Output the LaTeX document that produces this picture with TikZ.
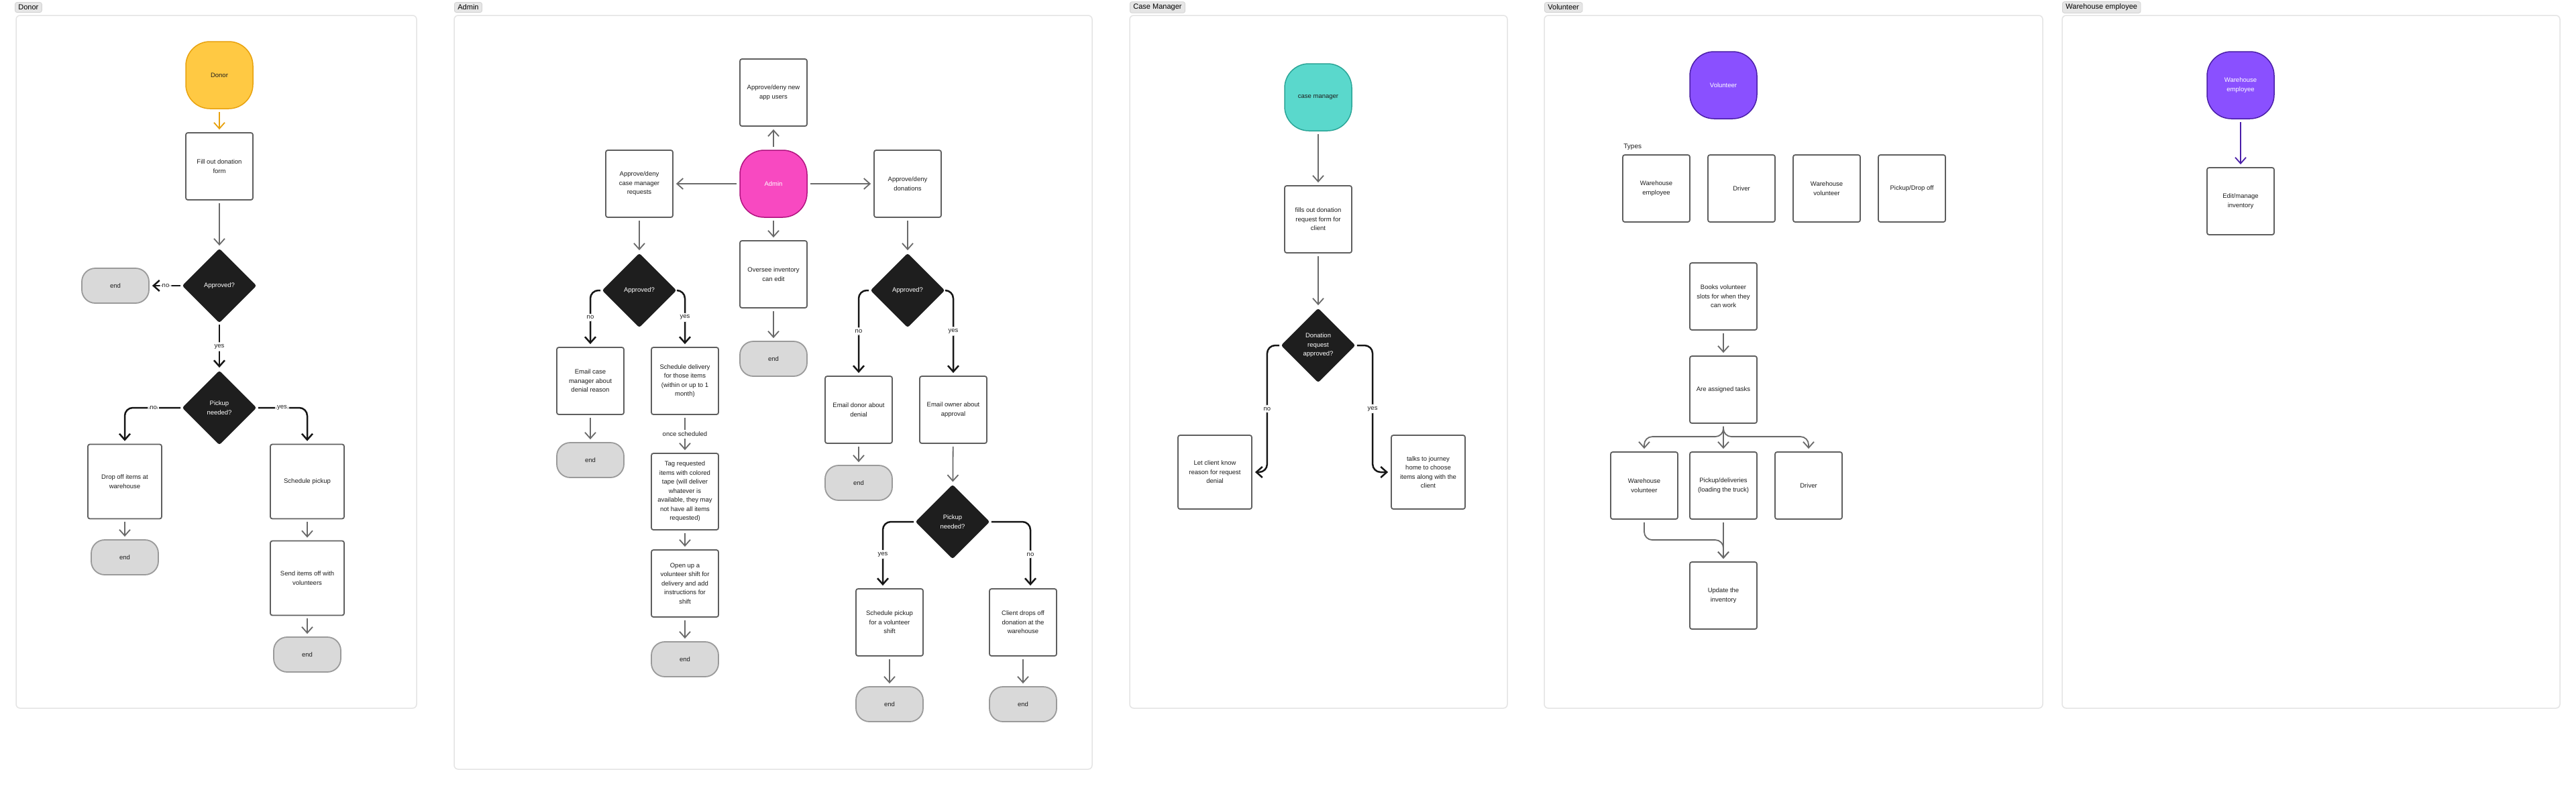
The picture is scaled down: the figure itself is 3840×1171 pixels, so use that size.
\documentclass[tikz,border=0pt]{standalone}
\usepackage{fontspec}
\setmainfont{Liberation Sans}
\usetikzlibrary{shapes.geometric,arrows.meta}

\definecolor{framegray}{HTML}{E4E4E4}
\definecolor{tagfill}{HTML}{E6E6E6}
\definecolor{tagdraw}{HTML}{D2D2D2}
\definecolor{boxgray}{HTML}{5E5E5E}
\definecolor{linegray}{HTML}{6A6A6A}
\definecolor{branchblack}{HTML}{161616}
\definecolor{decfill}{HTML}{1E1E1E}
\definecolor{endfill}{HTML}{D9D9D9}
\definecolor{enddraw}{HTML}{9A9A9A}
\definecolor{textdark}{HTML}{1E1E1E}
\definecolor{donorfill}{HTML}{FFC943}
\definecolor{donordraw}{HTML}{E8A20E}
\definecolor{adminfill}{HTML}{F849C1}
\definecolor{admindraw}{HTML}{B0127F}
\definecolor{cmfill}{HTML}{5AD8CC}
\definecolor{cmdraw}{HTML}{2AA597}
\definecolor{volfill}{HTML}{8A50FF}
\definecolor{voldraw}{HTML}{4A1EA8}

\tikzset{every picture/.style={line width=0.75pt}}
\tikzset{
  frame/.style={draw=framegray, fill=white, line width=1.5pt, rounded corners=6pt},
  tagbox/.style={draw=tagdraw, fill=tagfill, line width=0.8pt, rounded corners=3pt, anchor=west, inner xsep=5pt, minimum height=15pt, text=black, font=\fontsize{11}{13}\selectfont},
  startnode/.style={rounded corners=36pt, minimum width=100pt, minimum height=100pt, line width=1.5pt, align=center, inner sep=0pt, font=\fontsize{9.5}{13.5}\selectfont},
  taskbox/.style={draw=boxgray, fill=white, line width=1.8pt, rounded corners=3pt, minimum width=100pt, minimum height=100pt, align=center, inner sep=0pt, text=textdark, font=\fontsize{9.5}{13.5}\selectfont},
  widebox/.style={minimum width=110pt, minimum height=111pt},
  endnode/.style={draw=enddraw, fill=endfill, line width=1.8pt, rounded corners=20pt, minimum width=100pt, minimum height=52pt, text=textdark, font=\fontsize{9.5}{13.5}\selectfont},
  decision/.style={diamond, fill=decfill, rounded corners=3pt, minimum width=111pt, minimum height=111pt, inner sep=0pt, align=center, text=white, font=\fontsize{9.5}{13.5}\selectfont},
  flow/.style={draw=linegray, line width=1.8pt, -{Straight Barb[length=9pt,width=16pt]}, shorten <=4pt, shorten >=4pt},
  branch/.style={draw=branchblack, line width=2.5pt, rounded corners=12pt, -{Straight Barb[length=9pt,width=16pt]}, shorten <=2pt, shorten >=4pt},
  lbl/.style={fill=white, inner sep=3pt, text=textdark, font=\fontsize{9.5}{13.5}\selectfont}
}

\begin{document}
\begin{tikzpicture}[x=1pt,y=1pt,yscale=-1,xscale=1]
\useasboundingbox (0,0) rectangle (3840,1171);
\fill[white] (0,0) rectangle (3840,1171);

%Shape: Frames
\draw[frame] (24,23) rectangle (621,1056);
\draw[frame] (677,23) rectangle (1628,1147);
\draw[frame] (1684,23) rectangle (2247,1056);
\draw[frame] (2302,23) rectangle (3045,1056);
\draw[frame] (3074,23) rectangle (3816,1056);

% Text Node: section tags
\node[tagbox] (tagdonor) at (22,11) {Donor};
\node[tagbox] (tagadmin) at (677,11) {Admin};
\node[tagbox] (tagcm) at (1684,11) {Case Manager};
\node[tagbox] (tagvol) at (2302,11) {Volunteer};
\node[tagbox] (tagwh) at (3074,11) {Warehouse employee};

%%%%% Donor
\node[startnode, fill=donorfill, draw=donordraw, text=textdark] (donor) at (327,112) {Donor};
\node[taskbox] (fillform) at (327,248) {Fill out donation\\form};
\node[decision] (appr1) at (327,426) {Approved?};
\node[endnode] (end1) at (172,426) {end};
\node[decision] (pick1) at (327,608) {Pickup\\needed?};
\node[taskbox, widebox] (dropoff) at (186,718) {Drop off items at\\warehouse};
\node[endnode] (end2) at (186,831) {end};
\node[taskbox, widebox] (schedpick) at (458,718) {Schedule pickup};
\node[taskbox, widebox] (senditems) at (458,862) {Send items off with\\volunteers};
\node[endnode] (end3) at (458,976) {end};

%Straight Lines
\draw[flow, draw=donordraw] (donor) -- (fillform);
\draw[flow] (fillform) -- (appr1);
\draw[branch] (appr1.west) -- node[lbl] {no} (end1.east);
\draw[branch] (appr1.south) -- node[lbl] {yes} (pick1.north);
\draw[branch] (pick1.west) -| node[lbl, pos=0.25] {no} (dropoff.north);
\draw[branch] (pick1.east) -| node[lbl, pos=0.25] {yes} (schedpick.north);
\draw[flow] (dropoff) -- (end2);
\draw[flow] (schedpick) -- (senditems);
\draw[flow] (senditems) -- (end3);

%%%%% Admin
\node[startnode, fill=adminfill, draw=admindraw, text=white] (admin) at (1153,274) {Admin};
\node[taskbox] (newusers) at (1153,138) {Approve/deny new\\app users};
\node[taskbox] (cmreq) at (953,274) {Approve/deny\\case manager\\requests};
\node[taskbox] (donreq) at (1353,274) {Approve/deny\\donations};
\node[taskbox] (oversee) at (1153,409) {Oversee inventory\\can edit};
\node[endnode] (end4) at (1153,535) {end};

\node[decision] (appr2) at (953,433) {Approved?};
\node[taskbox] (emailcm) at (880,568) {Email case\\manager about\\denial reason};
\node[taskbox] (scheddel) at (1021,568) {Schedule delivery\\for those items\\(within or up to 1\\month)};
\node[endnode] (end5) at (880,686) {end};
\node[taskbox, minimum height=114pt] (tagitems) at (1021,733) {Tag requested\\items with colored\\tape (will deliver\\whatever is\\available, they may\\not have all items\\requested)};
\node[taskbox] (openshift) at (1021,870) {Open up a\\volunteer shift for\\delivery and add\\instructions for\\shift};
\node[endnode] (end6) at (1021,983) {end};

\node[decision] (appr3) at (1353,433) {Approved?};
\node[taskbox] (emaildonor) at (1280,611) {Email donor about\\denial};
\node[taskbox] (emailowner) at (1421,611) {Email owner about\\approval};
\node[endnode] (end7) at (1280,720) {end};
\node[decision] (pick2) at (1420,778) {Pickup\\needed?};
\node[taskbox] (schedvol) at (1326,928) {Schedule pickup\\for a volunteer\\shift};
\node[taskbox] (clientdrop) at (1525,928) {Client drops off\\donation at the\\warehouse};
\node[endnode] (end8) at (1326,1050) {end};
\node[endnode] (end9) at (1525,1050) {end};

%Straight Lines
\draw[flow] (admin) -- (newusers);
\draw[flow] (admin) -- (cmreq);
\draw[flow] (admin) -- (donreq);
\draw[flow] (admin) -- (oversee);
\draw[flow] (oversee) -- (end4);
\draw[flow] (cmreq) -- (appr2);
\draw[branch] (appr2.west) -| node[lbl, pos=0.74] {no} (emailcm.north);
\draw[branch] (appr2.east) -| node[lbl, pos=0.74] {yes} (scheddel.north);
\draw[flow] (emailcm) -- (end5);
\draw[flow] (scheddel) -- node[lbl] {once scheduled} (tagitems);
\draw[flow] (tagitems) -- (openshift);
\draw[flow] (openshift) -- (end6);
\draw[flow] (donreq) -- (appr3);
\draw[branch] (appr3.west) -| node[lbl, pos=0.74] {no} (emaildonor.north);
\draw[branch] (appr3.east) -| node[lbl, pos=0.74] {yes} (emailowner.north);
\draw[flow] (emaildonor) -- (end7);
\draw[flow] (emailowner) -- (pick2);
\draw[branch] (pick2.west) -| node[lbl, pos=0.745] {yes} ([xshift=-10pt]schedvol.north);
\draw[branch] (pick2.east) -| node[lbl, pos=0.745] {no} ([xshift=11pt]clientdrop.north);
\draw[flow] (schedvol) -- (end8);
\draw[flow] (clientdrop) -- (end9);

%%%%% Case Manager
\node[startnode, fill=cmfill, draw=cmdraw, text=textdark] (cm) at (1965,145) {case manager};
\node[taskbox] (cmform) at (1965,327) {fills out donation\\request form for\\client};
\node[decision] (cmdec) at (1965,515) {Donation\\request\\approved?};
\node[taskbox, minimum width=110pt, minimum height=110pt] (cmno) at (1811,704) {Let client know\\reason for request\\denial};
\node[taskbox, minimum width=110pt, minimum height=110pt] (cmyes) at (2129,704) {talks to journey\\home to choose\\items along with the\\client};

%Straight Lines
\draw[flow] (cm) -- (cmform);
\draw[flow] (cmform) -- (cmdec);
\draw[branch] (cmdec.west) -| node[lbl, pos=0.75] {no} ([xshift=22pt]cmno.east) -- (cmno.east);
\draw[branch] (cmdec.east) -| node[lbl, pos=0.75] {yes} ([xshift=-27pt]cmyes.west) -- (cmyes.west);

%%%%% Volunteer
\node[startnode, fill=volfill, draw=voldraw, text=white] (vol) at (2569,127) {Volunteer};
% Text Node
\node[anchor=west, inner sep=0pt, text=textdark, font=\fontsize{10}{12}\selectfont] (types) at (2420,219) {Types};
\node[taskbox] (typea) at (2469,281) {Warehouse\\employee};
\node[taskbox] (typeb) at (2596,281) {Driver};
\node[taskbox] (typec) at (2723,281) {Warehouse\\volunteer};
\node[taskbox] (typed) at (2850,281) {Pickup/Drop off};
\node[taskbox] (books) at (2569,442) {Books volunteer\\slots for when they\\can work};
\node[taskbox] (tasks) at (2569,581) {Are assigned tasks};
\node[taskbox] (wvol) at (2451,724) {Warehouse\\volunteer};
\node[taskbox] (pdel) at (2569,724) {Pickup/deliveries\\(loading the truck)};
\node[taskbox] (drv) at (2696,724) {Driver};
\node[taskbox] (update) at (2569,888) {Update the\\inventory};

%Straight Lines
\draw[flow] (books) -- (tasks);
\draw[flow, rounded corners=12pt] (tasks.south) |- ([yshift=-22pt]wvol.north) -- (wvol.north);
\draw[flow] (tasks) -- (pdel);
\draw[flow, rounded corners=12pt] (tasks.south) |- ([yshift=-22pt]drv.north) -- (drv.north);
\draw[flow, rounded corners=12pt] (wvol.south) |- ([yshift=-32pt]update.north) -- (update.north);
\draw[flow] (pdel) -- (update);

%%%%% Warehouse employee
\node[startnode, fill=volfill, draw=voldraw, text=white] (whemp) at (3340,127) {Warehouse\\employee};
\node[taskbox] (editinv) at (3340,300) {Edit/manage\\inventory};

%Straight Lines
\draw[flow, draw=voldraw] (whemp) -- (editinv);

\end{tikzpicture}
\end{document}
